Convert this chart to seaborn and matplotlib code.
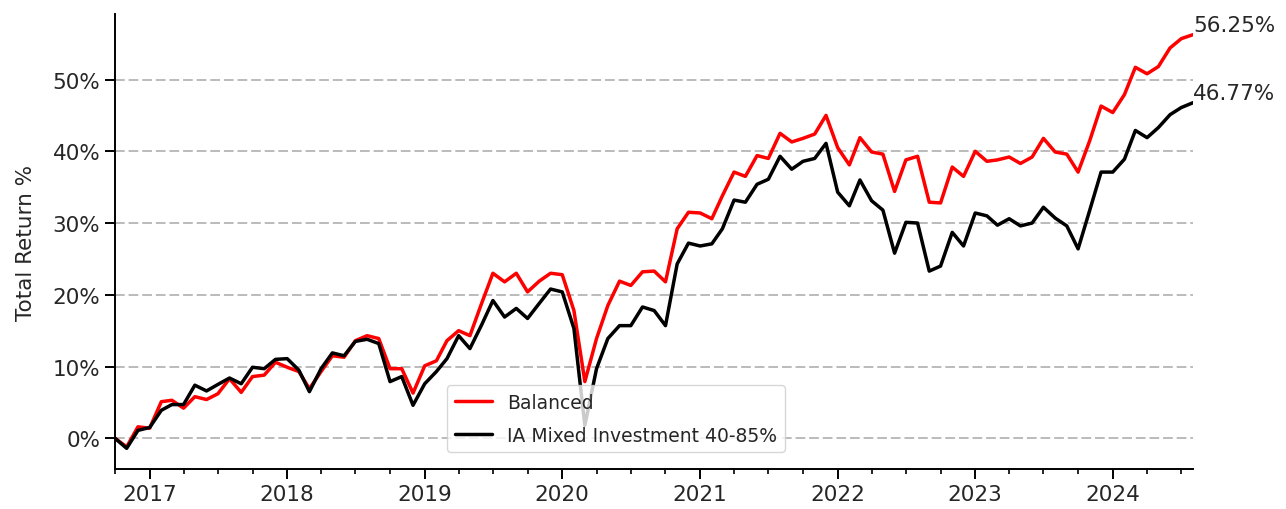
import numpy as np
import pandas as pd
import seaborn as sns
import matplotlib.pyplot as plt
import matplotlib.dates as mdates
from matplotlib.ticker import MultipleLocator, PercentFormatter

# monthly total return (%) from Oct 2016 to Aug 2024
start_month = "2016-10-01"
balanced = [
    0.0, -1.2, 1.6,
    1.4, 5.1, 5.3, 4.2, 5.8, 5.4, 6.2, 8.3, 6.4, 8.6, 8.8, 10.6,
    9.9, 9.3, 6.9, 9.3, 11.5, 11.3, 13.6, 14.3, 13.9, 9.7, 9.7, 6.3,
    10.1, 10.8, 13.6, 15.0, 14.3, 18.8, 23.0, 21.8, 23.0, 20.4, 21.9, 23.0,
    22.8, 17.8, 7.9, 13.9, 18.5, 21.9, 21.3, 23.2, 23.3, 21.8, 29.2, 31.5,
    31.4, 30.6, 33.8, 37.1, 36.5, 39.4, 39.0, 42.5, 41.3, 41.8, 42.4, 45.0,
    40.5, 38.1, 41.9, 39.9, 39.6, 34.4, 38.8, 39.3, 32.9, 32.8, 37.8, 36.5,
    40.0, 38.6, 38.8, 39.2, 38.3, 39.2, 41.8, 39.9, 39.6, 37.1, 41.5, 46.3,
    45.4, 47.9, 51.7, 50.8, 51.8, 54.4, 55.7, 56.25,
]
ia_mixed = [
    0.0, -1.4, 1.1,
    1.5, 3.9, 4.7, 4.7, 7.4, 6.6, 7.5, 8.4, 7.6, 9.9, 9.7, 11.0,
    11.1, 9.5, 6.5, 9.7, 11.9, 11.5, 13.5, 13.8, 13.2, 7.9, 8.6, 4.6,
    7.6, 9.3, 11.1, 14.3, 12.5, 15.8, 19.2, 16.9, 18.1, 16.7, 18.8, 20.8,
    20.4, 15.3, 1.8, 9.7, 13.9, 15.7, 15.7, 18.3, 17.8, 15.7, 24.3, 27.2,
    26.8, 27.1, 29.2, 33.2, 32.9, 35.4, 36.1, 39.3, 37.5, 38.6, 39.0, 41.1,
    34.3, 32.4, 36.0, 33.1, 31.8, 25.8, 30.1, 30.0, 23.3, 24.0, 28.7, 26.8,
    31.4, 31.0, 29.7, 30.6, 29.6, 30.0, 32.2, 30.7, 29.6, 26.4, 31.8, 37.1,
    37.1, 38.9, 42.9, 41.9, 43.3, 45.1, 46.1, 46.77,
]
series_names = ["Balanced", "IA Mixed Investment 40-85%"]
series_colors = {"Balanced": "red", "IA Mixed Investment 40-85%": "black"}

dates = pd.date_range(start_month, periods=len(balanced), freq="MS")
df = pd.concat(
    [
        pd.DataFrame({"Date": dates, "Return": balanced, "Fund": series_names[0]}),
        pd.DataFrame({"Date": dates, "Return": ia_mixed, "Fund": series_names[1]}),
    ],
    ignore_index=True,
)

sns.set_style("ticks")
plt.rcParams["font.family"] = ["DejaVu Sans"]

fig, ax = plt.subplots(figsize=(12.86, 5.1), dpi=100)
fig.subplots_adjust(left=0.0894, right=0.9277, bottom=0.0784, top=0.9706)

sns.lineplot(
    data=df,
    x="Date",
    y="Return",
    hue="Fund",
    hue_order=series_names,
    palette=series_colors,
    linewidth=2.5,
    ax=ax,
)

ax.set_xlim(dates[0], dates[-1])
ax.xaxis.set_major_locator(mdates.YearLocator())
ax.xaxis.set_major_formatter(mdates.DateFormatter("%Y"))
ax.xaxis.set_minor_locator(mdates.MonthLocator(bymonth=[1, 4, 7, 10]))
ax.yaxis.set_major_locator(MultipleLocator(10))
ax.yaxis.set_major_formatter(PercentFormatter(decimals=0))

ax.yaxis.grid(True, linestyle=(0, (5, 2)), color="#bbbbbb", linewidth=1.4)
ax.set_axisbelow(True)

ax.tick_params(axis="both", which="major", length=7, width=1.4,
               labelsize=15.5, color="black", labelcolor="#262626")
ax.tick_params(axis="x", which="minor", length=3.5, width=1.2, color="black")
for side in ["left", "bottom"]:
    ax.spines[side].set_linewidth(1.4)
    ax.spines[side].set_color("black")
sns.despine(ax=ax)

ax.set_xlabel("")
ax.set_ylabel("Total Return %", fontsize=15.5, color="#262626", labelpad=12)

# final values next to the line ends
for vals in [balanced, ia_mixed]:
    ax.text(dates[-1], vals[-1], f"{vals[-1]:.2f}%", ha="left", va="bottom",
            fontsize=15.5, color="#262626")

ax.legend(
    loc="lower left",
    bbox_to_anchor=(0.308, 0.037),
    borderaxespad=0,
    fontsize=13.5,
    labelspacing=0.75,
    frameon=True,
    framealpha=0.8,
    edgecolor="#cccccc",
    fancybox=True,
)

plt.savefig("out.png", dpi=100)
